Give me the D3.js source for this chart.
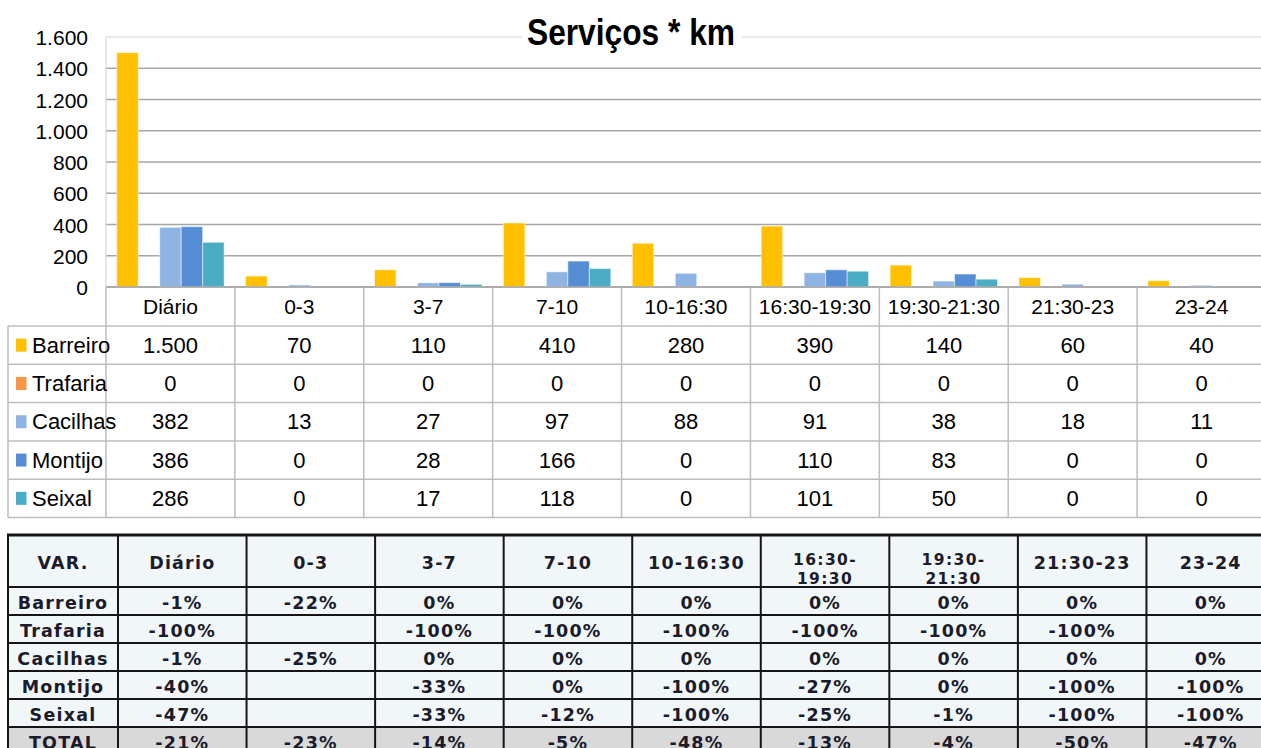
<!DOCTYPE html>
<html>
<head>
<meta charset="utf-8">
<script src="https://cdnjs.cloudflare.com/ajax/libs/d3/7.8.5/d3.min.js"></script>
<style>
  body { margin: 0; background: #fff; }
  svg { display: block; }
</style>
</head>
<body>
<script>
// chart data
var categories = ["Diário", "0-3", "3-7", "7-10", "10-16:30", "16:30-19:30", "19:30-21:30", "21:30-23", "23-24"];
var series = ["Barreiro", "Trafaria", "Cacilhas", "Montijo", "Seixal"];
var barreiro = [1500, 70, 110, 410, 280, 390, 140, 60, 40];
var trafaria = [0, 0, 0, 0, 0, 0, 0, 0, 0];
var cacilhas = [382, 13, 27, 97, 88, 91, 38, 18, 11];
var montijo = [386, 0, 28, 166, 0, 110, 83, 0, 0];
var seixal = [286, 0, 17, 118, 0, 101, 50, 0, 0];
var yTicks = [0, 200, 400, 600, 800, 1000, 1200, 1400, 1600];

// variation table
var varHeaders = ["VAR.", "Diário", "0-3", "3-7", "7-10", "10-16:30", "16:30-|19:30", "19:30-|21:30", "21:30-23", "23-24"];
var varRowNames = ["Barreiro", "Trafaria", "Cacilhas", "Montijo", "Seixal", "TOTAL"];
var varBarreiro = ["-1%", "-22%", "0%", "0%", "0%", "0%", "0%", "0%", "0%"];
var varTrafaria = ["-100%", "", "-100%", "-100%", "-100%", "-100%", "-100%", "-100%", ""];
var varCacilhas = ["-1%", "-25%", "0%", "0%", "0%", "0%", "0%", "0%", "0%"];
var varMontijo = ["-40%", "", "-33%", "0%", "-100%", "-27%", "0%", "-100%", "-100%"];
var varSeixal = ["-47%", "", "-33%", "-12%", "-100%", "-25%", "-1%", "-100%", "-100%"];
var varTotal = ["-21%", "-23%", "-14%", "-5%", "-48%", "-13%", "-4%", "-50%", "-47%"];

var values = [barreiro, trafaria, cacilhas, montijo, seixal];
var varValues = [varBarreiro, varTrafaria, varCacilhas, varMontijo, varSeixal, varTotal];
var colors = ["#FFC000", "#F79646", "#8EB4E3", "#558ED5", "#4BACC6"];

var width = 1261;
var height = 748;
var chartFont = "'Liberation Sans Narrow', 'Liberation Sans', Arial, sans-serif";
var tableFont = "'DejaVu Sans', Verdana, sans-serif";

var svg = d3.select("body").append("svg")
  .attr("width", width)
  .attr("height", height);

var pt = d3.formatLocale({ decimal: ",", thousands: ".", grouping: [3], currency: ["", "€"] });
var fmt = pt.format(",d");

// scales
var x0 = d3.scaleBand().domain(categories).range([106, 1266]);
var bw = x0.bandwidth();
var x1 = d3.scaleBand().domain(series).range([bw / 12, bw - bw / 12]);
var y = d3.scaleLinear().domain([0, 1600]).range([287, 37]);

// gridlines
svg.append("g").selectAll("line").data(yTicks).enter().append("line")
  .attr("x1", 106).attr("x2", width)
  .attr("y1", function(d) { return y(d); })
  .attr("y2", function(d) { return y(d); })
  .attr("stroke", function(d) { return d === 1600 ? "#e3e3e3" : "#a6a6a6"; })
  .attr("stroke-width", 1.5);

// left axis line of the plot
svg.append("line")
  .attr("x1", 106).attr("x2", 106).attr("y1", y(1600)).attr("y2", y(0))
  .attr("stroke", "#d0d0d0").attr("stroke-width", 1);

// y tick labels
var yAxis = d3.axisLeft(y).tickValues(yTicks).tickFormat(fmt).tickSize(0).tickPadding(0);
var ya = svg.append("g").attr("transform", "translate(88,0)").call(yAxis);
ya.select(".domain").remove();
ya.selectAll("text")
  .attr("font-family", chartFont)
  .attr("font-size", 21)
  .attr("fill", "#000")
  .attr("dy", "0.36em");

// bars
var groups = svg.append("g").selectAll("g").data(categories).enter().append("g")
  .attr("transform", function(d) { return "translate(" + x0(d) + ",0)"; });
groups.selectAll("rect")
  .data(function(d, i) { return series.map(function(s, j) { return { s: s, v: values[j][i], c: colors[j] }; }); })
  .enter().append("rect")
  .attr("x", function(d) { return x1(d.s); })
  .attr("width", x1.bandwidth())
  .attr("y", function(d) { return y(d.v); })
  .attr("height", function(d) { return y(0) - y(d.v); })
  .attr("fill", function(d) { return d.c; })
  .attr("stroke", "#ffffff")
  .attr("stroke-opacity", 0.5)
  .attr("stroke-width", 1);

// x axis line
svg.append("line")
  .attr("x1", 106).attr("x2", width).attr("y1", y(0)).attr("y2", y(0))
  .attr("stroke", "#a6a6a6").attr("stroke-width", 1.5);

// title with white backing
var titleG = svg.append("g");
titleG.append("rect").attr("x", 522).attr("y", 14).attr("width", 220).attr("height", 40).attr("fill", "#fff");
titleG.append("text")
  .attr("x", 631).attr("y", 45)
  .attr("text-anchor", "middle")
  .attr("font-family", chartFont)
  .attr("font-weight", "bold")
  .attr("font-size", 37)
  .attr("textLength", 208)
  .attr("lengthAdjust", "spacingAndGlyphs")
  .attr("fill", "#000")
  .text("Serviços * km");

// data table under the chart
var rowTop = 326;
var rowH = 38.3;
var t1 = svg.append("g");
var gridColor = "#bdbdbd";

// horizontal lines
d3.range(series.length + 1).forEach(function(i) {
  t1.append("line")
    .attr("x1", 8).attr("x2", width)
    .attr("y1", rowTop + i * rowH).attr("y2", rowTop + i * rowH)
    .attr("stroke", gridColor).attr("stroke-width", 1.5);
});
// vertical lines
t1.append("line").attr("x1", 8).attr("x2", 8).attr("y1", rowTop).attr("y2", rowTop + series.length * rowH)
  .attr("stroke", gridColor).attr("stroke-width", 1.5);
categories.forEach(function(c) {
  t1.append("line").attr("x1", x0(c)).attr("x2", x0(c))
    .attr("y1", y(0)).attr("y2", rowTop + series.length * rowH)
    .attr("stroke", gridColor).attr("stroke-width", 1.5);
});

// category labels
t1.selectAll(".cat").data(categories).enter().append("text")
  .attr("class", "cat")
  .attr("x", function(d) { return x0(d) + bw / 2; })
  .attr("y", 314)
  .attr("text-anchor", "middle")
  .attr("font-family", chartFont).attr("font-size", 21).attr("fill", "#000")
  .text(function(d) { return d; });

// legend keys and values
series.forEach(function(s, j) {
  var cy = rowTop + j * rowH + rowH / 2;
  t1.append("rect").attr("x", 16).attr("y", cy - 6.5).attr("width", 10.5).attr("height", 13).attr("fill", colors[j]);
  t1.append("text").attr("x", 32).attr("y", cy + 7.5)
    .attr("font-family", chartFont).attr("font-size", 22).attr("fill", "#000")
    .text(s);
  t1.selectAll(".v" + j).data(values[j]).enter().append("text")
    .attr("x", function(d, i) { return x0(categories[i]) + bw / 2; })
    .attr("y", cy + 7.5)
    .attr("text-anchor", "middle")
    .attr("font-family", chartFont).attr("font-size", 22).attr("fill", "#000")
    .text(function(d) { return fmt(d); });
});

// variation table
var vx = d3.scaleBand().domain(categories).range([118, 1275]);
var t2 = svg.append("g");
var t2Top = 535;
var t2HeadH = 52;
var t2RowH = 28;
var cellFill = "#F1F6F9";

// cell backgrounds
t2.append("rect").attr("x", 8).attr("y", t2Top).attr("width", 1275 - 8).attr("height", t2HeadH)
  .attr("fill", cellFill);
varRowNames.forEach(function(r, k) {
  t2.append("rect").attr("x", 8).attr("y", t2Top + t2HeadH + k * t2RowH)
    .attr("width", 1275 - 8).attr("height", t2RowH)
    .attr("fill", r === "TOTAL" ? "#D9D9D9" : cellFill);
});

var textStyle = function(sel) {
  sel.attr("font-family", tableFont)
    .attr("font-size", 17.5)
    .attr("font-weight", "bold")
    .attr("letter-spacing", 1.2)
    .attr("fill", "#1b1b2a")
    .attr("text-anchor", "middle");
};

// header texts
varHeaders.forEach(function(h, i) {
  var cx = i === 0 ? (8 + 118) / 2 : vx(categories[i - 1]) + vx.bandwidth() / 2;
  var parts = h.split("|");
  if (parts.length === 1) {
    t2.append("text").call(textStyle).attr("x", cx).attr("y", 569).text(parts[0]);
  } else {
    // two stacked lines, kept slightly smaller so they do not collide
    t2.append("text").call(textStyle).attr("font-size", 15.5).attr("letter-spacing", 1.4)
      .attr("x", cx).attr("y", 565).text(parts[0]);
    t2.append("text").call(textStyle).attr("font-size", 15.5).attr("letter-spacing", 1.4)
      .attr("x", cx).attr("y", 583.5).text(parts[1]);
  }
});

// rows
varRowNames.forEach(function(r, k) {
  var top = t2Top + t2HeadH + k * t2RowH;
  t2.append("text").call(textStyle).attr("x", (8 + 118) / 2).attr("y", top + 22).text(r);
  t2.selectAll(".r" + k).data(varValues[k]).enter().append("text")
    .call(textStyle)
    .attr("x", function(d, i) { return vx(categories[i]) + vx.bandwidth() / 2; })
    .attr("y", top + 22)
    .text(function(d) { return d; });
});

// table grid
var lineColor = "#151515";
var t2Bottom = t2Top + t2HeadH + varRowNames.length * t2RowH;
d3.range(0, varRowNames.length + 1).map(function(k) { return t2Top + t2HeadH + k * t2RowH; })
  .forEach(function(yy) {
    t2.append("line").attr("x1", 8).attr("x2", 1275).attr("y1", yy).attr("y2", yy)
      .attr("stroke", lineColor).attr("stroke-width", 2);
  });
t2.append("line").attr("x1", 7).attr("x2", 1275).attr("y1", t2Top).attr("y2", t2Top)
  .attr("stroke", lineColor).attr("stroke-width", 3);
[8, 118].concat(categories.map(function(c) { return vx(c) + vx.bandwidth(); })).forEach(function(xx) {
  t2.append("line").attr("x1", xx).attr("x2", xx).attr("y1", t2Top).attr("y2", t2Bottom)
    .attr("stroke", lineColor).attr("stroke-width", 2);
});
</script>
</body>
</html>
